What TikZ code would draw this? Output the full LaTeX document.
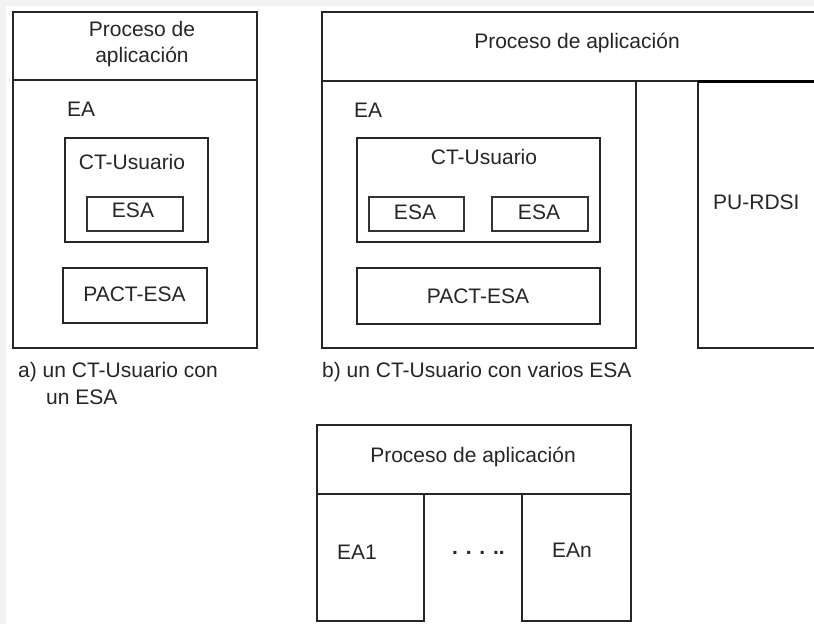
\documentclass[tikz,border=0pt]{standalone}
\usepackage{fontspec}
\setmainfont{Liberation Sans}
\begin{document}
\begin{tikzpicture}[x=1pt,y=-1pt,
  box/.style={draw=black!85,line width=2pt},
  thin/.style={draw=black!80,line width=1.3pt},
  txt/.style={inner sep=0pt,font=\fontsize{21}{26}\selectfont,text=black!85}]
\useasboundingbox (0,0) rectangle (814,624);
\clip (0,0) rectangle (814,624);
\fill[black!5] (0,0) rectangle (814,624);
\fill[white] (6,6) rectangle (814,624);
% ---- a)
\draw[box] (13,80) rectangle (257,348) coordinate (eaa);
\draw[box] (13,12) rectangle (257,80);
\node[txt,align=center,anchor=base] (pa) at (142,62) {Proceso de\\aplicación};
\node[txt,anchor=base west] (ea) at (67,116) {EA};
\draw[box] (65,138) rectangle (208,242);
\node[txt,anchor=base] (cta) at (132,169.5) {CT-Usuario};
\draw[thin] (87,197) rectangle (183,231);
\node[txt,anchor=base] (esaa) at (133,217.5) {ESA};
\draw[box] (63,268) rectangle (207,323);
\node[txt,anchor=base] (pacta) at (134.5,301.5) {PACT-ESA};
\node[txt,anchor=base west] (capa1) at (18,377.5) {a) un CT-Usuario con};
\node[txt,anchor=base west] (capa2) at (46,404) {un ESA};
% ---- b)
\draw[box] (322,81) rectangle (636,348);
\draw[box] (698,81) rectangle (830,348);
\draw[box] (322,12) rectangle (830,81);
\draw[black,line width=3pt] (698,81) -- (830,81);
\node[txt,anchor=base] (pb) at (577,48.5) {Proceso de aplicación};
\node[txt,anchor=base west] (eab) at (354,117.5) {EA};
\draw[box] (357,138) rectangle (600,242);
\node[txt,anchor=base] (ctb) at (484,164.5) {CT-Usuario};
\draw[thin] (369,197) rectangle (464,231);
\node[txt,anchor=base] (esab1) at (415,219.5) {ESA};
\draw[thin] (492,197) rectangle (588,231);
\node[txt,anchor=base] (esab2) at (539,219.5) {ESA};
\draw[box] (357,268) rectangle (600,324);
\node[txt,anchor=base] (pactb) at (478,303.5) {PACT-ESA};
\node[txt,anchor=base west] (pu) at (713,209.5) {PU-RDSI};
\node[txt,anchor=base west] (capb) at (322,377.5) {b) un CT-Usuario con varios ESA};
% ---- c)
\draw[box] (317,494) rectangle (424,621);
\draw[box] (522,494) rectangle (631,621);
\draw[box] (317,425) rectangle (631,494);
\node[txt,anchor=base] (pc) at (473,462.5) {Proceso de aplicación};
\node[txt,anchor=base west] (ea1) at (337,559.5) {EA1};
\node[txt,anchor=base west] (ean) at (552,557.5) {EAn};
\node[txt,anchor=base west,font=\fontsize{21}{25}\selectfont\bfseries] (dots) at (452,554) {. . . ..};
\end{tikzpicture}
\end{document}
